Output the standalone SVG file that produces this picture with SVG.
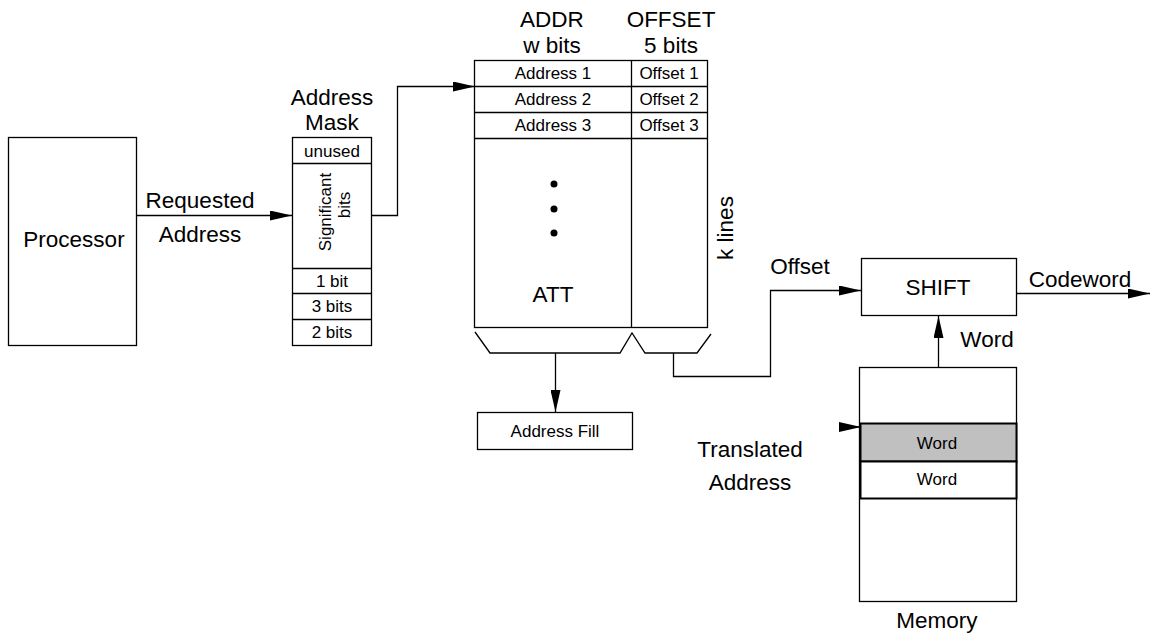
<svg xmlns="http://www.w3.org/2000/svg" width="1151" height="637" viewBox="0 0 1151 637">
<style>
.b{fill:#fff;stroke:#000;stroke-width:1.3}
.l{fill:none;stroke:#000;stroke-width:1.3}
.t{font-family:"Liberation Sans",Arial,sans-serif;fill:#000;text-anchor:middle}
.big{font-size:22.5px}
.sm{font-size:17px}
</style>
<defs>
<marker id="ah" viewBox="0 0 22 10" refX="22" refY="5" markerWidth="22" markerHeight="10" markerUnits="userSpaceOnUse" orient="auto">
<path d="M0,0 L22,5 L0,10 Z" fill="#000"/>
</marker>
</defs>
<rect width="1151" height="637" fill="#fff"/>
<g id="processor">
<rect class="b" x="8.5" y="137.5" width="128" height="208"/>
<text class="t big" x="74" y="247">Processor</text>
</g>
<g id="mask">
<text class="t big" x="332" y="105">Address</text>
<text class="t big" x="332" y="130">Mask</text>
<rect class="b" x="292.5" y="137.5" width="79" height="208"/>
<line class="l" x1="292" y1="163.5" x2="371" y2="163.5"/>
<line class="l" x1="292" y1="268.5" x2="371" y2="268.5"/>
<line class="l" x1="292" y1="293.5" x2="371" y2="293.5"/>
<line class="l" x1="292" y1="319.5" x2="371" y2="319.5"/>
<text class="t sm" x="332" y="157">unused</text>
<text class="t sm" transform="translate(331,212) rotate(-90)">Significant</text>
<text class="t sm" transform="translate(350,205) rotate(-90)">bits</text>
<text class="t sm" x="332" y="287">1 bit</text>
<text class="t sm" x="332" y="312">3 bits</text>
<text class="t sm" x="332" y="338">2 bits</text>
</g>
<g id="att">
<text class="t big" x="552" y="27">ADDR</text>
<text class="t big" x="552" y="53">w bits</text>
<text class="t big" x="671" y="27">OFFSET</text>
<text class="t big" x="671" y="53">5 bits</text>
<rect class="b" x="474.5" y="60.5" width="233" height="267"/>
<line class="l" x1="631.5" y1="60" x2="631.5" y2="328"/>
<line class="l" x1="474" y1="86.5" x2="708" y2="86.5"/>
<line class="l" x1="474" y1="112.5" x2="708" y2="112.5"/>
<line class="l" x1="474" y1="138.5" x2="708" y2="138.5"/>
<text class="t sm" x="553" y="79">Address 1</text>
<text class="t sm" x="553" y="105">Address 2</text>
<text class="t sm" x="553" y="131">Address 3</text>
<text class="t sm" x="669" y="79">Offset 1</text>
<text class="t sm" x="669" y="105">Offset 2</text>
<text class="t sm" x="669" y="131">Offset 3</text>
<circle cx="554" cy="184" r="3.5" fill="#000"/>
<circle cx="554" cy="209" r="3.5" fill="#000"/>
<circle cx="554" cy="233" r="3.5" fill="#000"/>
<text class="t big" x="553" y="302">ATT</text>
<text class="t big" transform="translate(733,228) rotate(-90)">k lines</text>
<polyline class="l" points="475,332 490,353 620,353 632,333 645,353 697,353 711,334"/>
</g>
<g id="fill">
<rect class="b" x="477.5" y="412.5" width="155" height="37"/>
<text class="t sm" x="555" y="437">Address Fill</text>
</g>
<g id="shift">
<rect class="b" x="861.5" y="258.5" width="155" height="57"/>
<text class="t big" x="938" y="295">SHIFT</text>
</g>
<g id="memory">
<rect class="b" x="859.5" y="367.5" width="157" height="234"/>
<rect x="860.5" y="423.5" width="156" height="38" fill="#c0c0c0" stroke="#000" stroke-width="2"/>
<rect x="860.5" y="461.5" width="156" height="37" fill="#fff" stroke="#000" stroke-width="2"/>
<text class="t sm" x="937" y="449">Word</text>
<text class="t sm" x="937" y="485">Word</text>
<text class="t big" x="937" y="628">Memory</text>
</g>
<g id="connectors">
<line class="l" x1="137" y1="215.5" x2="292" y2="215.5" marker-end="url(#ah)"/>
<text class="t big" x="200" y="208">Requested</text>
<text class="t big" x="200" y="242">Address</text>
<polyline class="l" points="371,215.5 397.5,215.5 397.5,86.5 475,86.5" marker-end="url(#ah)"/>
<line class="l" x1="555.5" y1="353" x2="555.5" y2="412" marker-end="url(#ah)"/>
<polyline class="l" points="673.5,353 673.5,376.5 770.5,376.5 770.5,290.5 861,290.5" marker-end="url(#ah)"/>
<text class="t big" x="800" y="274">Offset</text>
<line class="l" x1="938.5" y1="367" x2="938.5" y2="316" marker-end="url(#ah)"/>
<text class="t big" x="987" y="347">Word</text>
<line class="l" x1="1017" y1="293.5" x2="1150" y2="293.5" marker-end="url(#ah)"/>
<text class="t big" x="1080" y="287">Codeword</text>
<line class="l" x1="839" y1="427" x2="861" y2="427" marker-end="url(#ah)"/>
<text class="t big" x="750" y="457">Translated</text>
<text class="t big" x="750" y="490">Address</text>
</g>
</svg>
